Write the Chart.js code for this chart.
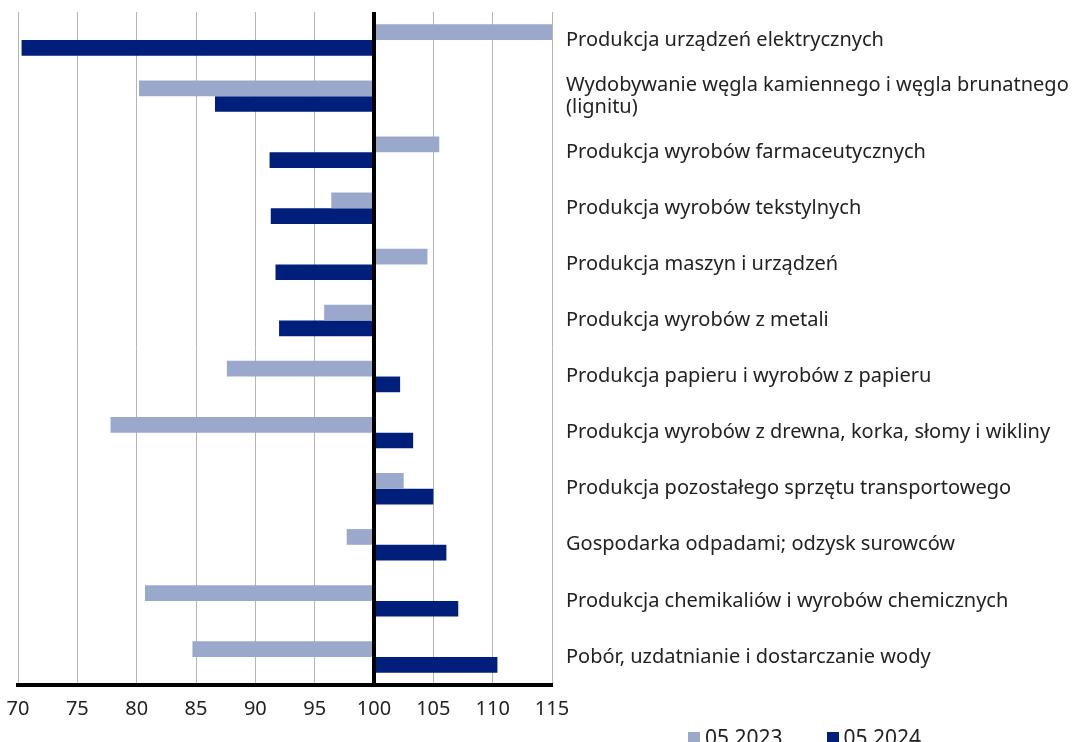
<!DOCTYPE html>
<html>
<head>
<meta charset="utf-8">
<script src="https://cdn.jsdelivr.net/npm/chart.js@4.4.1/dist/chart.umd.min.js"></script>
<style>
    html, body { margin: 0; padding: 0; background: #fff; }
    #wrap { position: relative; width: 1078px; height: 742px; overflow: hidden; }
    #legend { position: absolute; left: 688px; top: 723px; font-family: 'Noto Sans', sans-serif; font-size: 21px; color: #222; display: flex; gap: 44px; }
    #legend span.sw { display: inline-block; width: 12px; height: 12px; margin-right: 5px; vertical-align: 1px; }
</style>
</head>
<body>
<div id="wrap">
    <canvas id="industryChart" width="1078" height="742"></canvas>
    <div id="legend"></div>
</div>
<script>
const categories = [
    'Produkcja urządzeń elektrycznych',
    ['Wydobywanie węgla kamiennego i węgla brunatnego', '(lignitu)'],
    'Produkcja wyrobów farmaceutycznych',
    'Produkcja wyrobów tekstylnych',
    'Produkcja maszyn i urządzeń',
    'Produkcja wyrobów z metali',
    'Produkcja papieru i wyrobów z papieru',
    'Produkcja wyrobów z drewna, korka, słomy i wikliny',
    'Produkcja pozostałego sprzętu transportowego',
    'Gospodarka odpadami; odzysk surowców',
    'Produkcja chemikaliów i wyrobów chemicznych',
    'Pobór, uzdatnianie i dostarczanie wody'
];
const seriesNames = ['05 2023', '05 2024'];
const values2023 = [115.0, 80.2, 105.5, 96.4, 104.5, 95.8, 87.6, 77.8, 102.5, 97.7, 80.7, 84.7];
const values2024 = [70.3, 86.6, 91.2, 91.3, 91.7, 92.0, 102.2, 103.3, 105.0, 106.1, 107.1, 110.4];
const baseValue = 100;
const xMin = 70, xMax = 115, xStep = 5;

const colors = ['#9aa8cb', '#001f7a'];
const fontFamily = "'Noto Sans', sans-serif";

// Thick black reference line at 100
const baseLinePlugin = {
    id: 'baseLine',
    afterDatasetsDraw(chart) {
        const { ctx, chartArea, scales } = chart;
        const x = scales.x.getPixelForValue(baseValue);
        ctx.save();
        ctx.strokeStyle = '#000';
        ctx.lineWidth = 4;
        ctx.beginPath();
        ctx.moveTo(x, chartArea.top);
        ctx.lineTo(x, chartArea.bottom);
        ctx.stroke();
        ctx.restore();
    }
};

const ctx = document.getElementById('industryChart').getContext('2d');
new Chart(ctx, {
    type: 'bar',
    data: {
        labels: categories,
        datasets: [
            {
                label: seriesNames[0],
                data: values2023.map(v => [baseValue, v]),
                backgroundColor: colors[0],
                borderSkipped: false
            },
            {
                label: seriesNames[1],
                data: values2024.map(v => [baseValue, v]),
                backgroundColor: colors[1],
                borderSkipped: false
            }
        ]
    },
    options: {
        indexAxis: 'y',
        responsive: false,
        animation: false,
        categoryPercentage: 0.56,
        barPercentage: 1.0,
        layout: {
            padding: { top: 12, left: 18, right: 0, bottom: 9 }
        },
        plugins: {
            legend: { display: false },
            tooltip: { enabled: false }
        },
        scales: {
            x: {
                min: xMin,
                max: xMax,
                ticks: {
                    stepSize: xStep,
                    padding: 12,
                    color: '#222',
                    font: { family: fontFamily, size: 20 }
                },
                grid: {
                    color: '#b5b5b5',
                    lineWidth: 1,
                    drawTicks: false
                },
                border: { color: '#000', width: 4 },
                afterFit(scale) {
                    scale.paddingLeft = 0;
                    scale.paddingRight = 0;
                }
            },
            y: {
                position: 'right',
                grid: { display: false },
                border: { display: false },
                ticks: {
                    padding: 6,
                    color: '#222',
                    font: { family: fontFamily, size: 20, lineHeight: 1.1 }
                },
                afterFit(scale) {
                    scale.width = 526;
                    scale.paddingTop = 0;
                    scale.paddingBottom = 0;
                }
            }
        }
    },
    plugins: [baseLinePlugin]
});

// Legend
const legendDiv = document.getElementById('legend');
legendDiv.innerHTML = seriesNames.map((name, i) =>
    `<div><span class="sw" style="background:${colors[i]}"></span>${name}</div>`
).join('');
</script>
</body>
</html>
